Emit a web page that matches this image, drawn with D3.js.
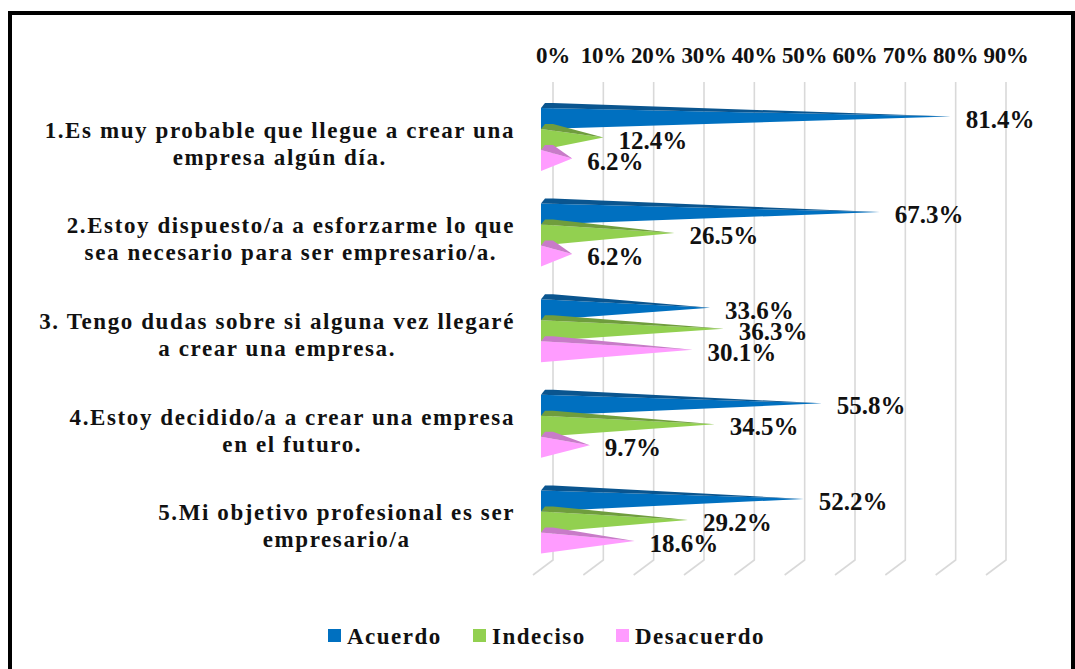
<!DOCTYPE html>
<html>
<head>
<meta charset="utf-8">
<script src="https://cdn.jsdelivr.net/npm/d3@7"></script>
<style>
  body { margin: 0; background: #ffffff; }
  text { font-family: "Liberation Serif", "Times New Roman", serif; font-weight: bold; fill: #111111; }
</style>
</head>
<body>
<svg id="sketchbook" width="1075" height="669"></svg>
<script>
let categories = [
    ['1.Es muy probable que llegue a crear una', 'empresa algún día.'],
    ['2.Estoy dispuesto/a a esforzarme lo que', 'sea necesario para ser empresario/a.'],
    ['3. Tengo dudas sobre si alguna vez llegaré', 'a crear una empresa.'],
    ['4.Estoy decidido/a a crear una empresa', 'en el futuro.'],
    ['5.Mi objetivo profesional es ser', 'empresario/a']
];
let seriesNames = ['Acuerdo', 'Indeciso', 'Desacuerdo'];
let acuerdo    = [81.4, 67.3, 33.6, 55.8, 52.2];
let indeciso   = [12.4, 26.5, 36.3, 34.5, 29.2];
let desacuerdo = [6.2, 6.2, 30.1, 9.7, 18.6];
let ticks = [0, 10, 20, 30, 40, 50, 60, 70, 80, 90];

let colors = ['#0070C0', '#92D050', '#FF9CFF'];
let topColors = ['#0a558f', '#6f9d3d', '#c87bc8'];

function makeBases (svg) {
    let base = [
        { _id: 1, code: 'background' },
        { _id: 2, code: 'labels' },
        { _id: 3, code: 'bars' },
        { _id: 4, code: 'forground' },
    ];
    svg.selectAll('g.base')
        .data(base, (d) => { return d._id; })
        .enter()
        .append('g')
        .attr('class', (d) => { return 'base ' + d.code; });
}

function drawFrame (svg) {
    svg.select('g.base.background')
        .append('rect')
        .attr('x', 10).attr('y', 13)
        .attr('width', 1063).attr('height', 700)
        .attr('fill', 'none')
        .attr('stroke', '#000000')
        .attr('stroke-width', 4);
}

function drawGrid (svg, xBack, yTop, yBottom) {
    let g = svg.select('g.base.background');
    g.selectAll('path.grid')
        .data(ticks)
        .enter()
        .append('path')
        .attr('class', 'grid')
        .attr('d', (d) => {
            let x = xBack(d);
            return 'M' + x + ',' + yTop + 'L' + x + ',' + yBottom + 'L' + (x - 20) + ',' + (yBottom + 15);
        })
        .attr('fill', 'none')
        .attr('stroke', '#d9d9d9')
        .attr('stroke-width', 1.6);

    g.selectAll('text.tick')
        .data(ticks)
        .enter()
        .append('text')
        .attr('class', 'tick')
        .attr('x', (d) => { return xBack(d); })
        .attr('y', 63)
        .attr('text-anchor', 'middle')
        .attr('font-size', 23)
        .attr('letter-spacing', -0.3)
        .text((d) => { return d + '%'; });
}

function drawCategories (svg, y) {
    let g = svg.select('g.base.labels');
    let right = 515;
    categories.forEach((lines, i) => {
        let block = g.append('g').attr('class', 'cat');
        let texts = block.selectAll('text')
            .data(lines)
            .enter()
            .append('text')
            .attr('font-size', 23)
            .attr('letter-spacing', 1.6)
            .attr('y', (d, j) => { return y(i) + y.bandwidth() / 2 + 8 + j * 27; })
            .text((d) => { return d; });
        let w = 0;
        texts.each(function () { w = Math.max(w, this.getComputedTextLength()); });
        texts.attr('x', right - w / 2).attr('text-anchor', 'middle');
    });
}

function drawBars (svg, xFront, y) {
    let g = svg.select('g.base.bars');
    let values = [acuerdo, indeciso, desacuerdo];
    let barH = 21;
    let data = [];
    categories.forEach((c, i) => {
        values.forEach((vals, s) => {
            data.push({ cat: i, s: s, v: vals[i] });
        });
    });

    let pos = (d) => {
        let y0 = y(d.cat) + 26 + d.s * barH;
        return { x0: xFront(0), x1: xFront(d.v), y0: y0, y1: y0 + barH, yc: y0 + barH / 2 - 2 };
    };

    let bar = g.selectAll('g.bar')
        .data(data)
        .enter()
        .append('g')
        .attr('class', 'bar');

    bar.append('path')
        .attr('d', (d) => {
            let p = pos(d);
            return 'M' + p.x0 + ',' + p.y0 + 'L' + p.x0 + ',' + p.y1 + 'L' + p.x1 + ',' + p.yc + 'Z';
        })
        .attr('fill', (d) => { return colors[d.s]; });

    bar.append('path')
        .attr('d', (d) => {
            let p = pos(d);
            return 'M' + p.x0 + ',' + p.y0 + 'L' + (p.x0 + 4) + ',' + (p.y0 - 5) + 'L' + (p.x0 + 12) + ',' + (p.y0 - 5) + 'L' + p.x1 + ',' + p.yc + 'Z';
        })
        .attr('fill', (d) => { return topColors[d.s]; });

    svg.select('g.base.forground')
        .selectAll('text.value')
        .data(data)
        .enter()
        .append('text')
        .attr('class', 'value')
        .attr('x', (d) => { return pos(d).x1 + 15; })
        .attr('y', (d) => { return pos(d).yc + 11; })
        .attr('font-size', 25)
        .text((d) => { return d.v.toFixed(1) + '%'; });
}

function drawLegend (svg) {
    let g = svg.select('g.base.forground');
    let xs = [328, 473, 616];
    let item = g.selectAll('g.legend')
        .data(seriesNames)
        .enter()
        .append('g')
        .attr('class', 'legend')
        .attr('transform', (d, i) => { return 'translate(' + xs[i] + ',636)'; });
    item.append('rect')
        .attr('x', 0).attr('y', -7)
        .attr('width', 13).attr('height', 13)
        .attr('fill', (d, i) => { return colors[i]; });
    item.append('text')
        .attr('x', 19).attr('y', 8)
        .attr('font-size', 23)
        .attr('letter-spacing', 1.5)
        .text((d) => { return d; });
}

function makeChart () {
    let svg = d3.select('#sketchbook');
    let xBack = d3.scaleLinear().domain([0, 90]).range([553, 1006]);
    let xFront = d3.scaleLinear().domain([0, 90]).range([541, 994]);
    let y = d3.scaleBand().domain(d3.range(categories.length)).range([82, 560]);

    makeBases(svg);
    drawFrame(svg);
    drawGrid(svg, xBack, 82, 560);
    drawCategories(svg, y);
    drawBars(svg, xFront, y);
    drawLegend(svg);
}

makeChart();
</script>
</body>
</html>
